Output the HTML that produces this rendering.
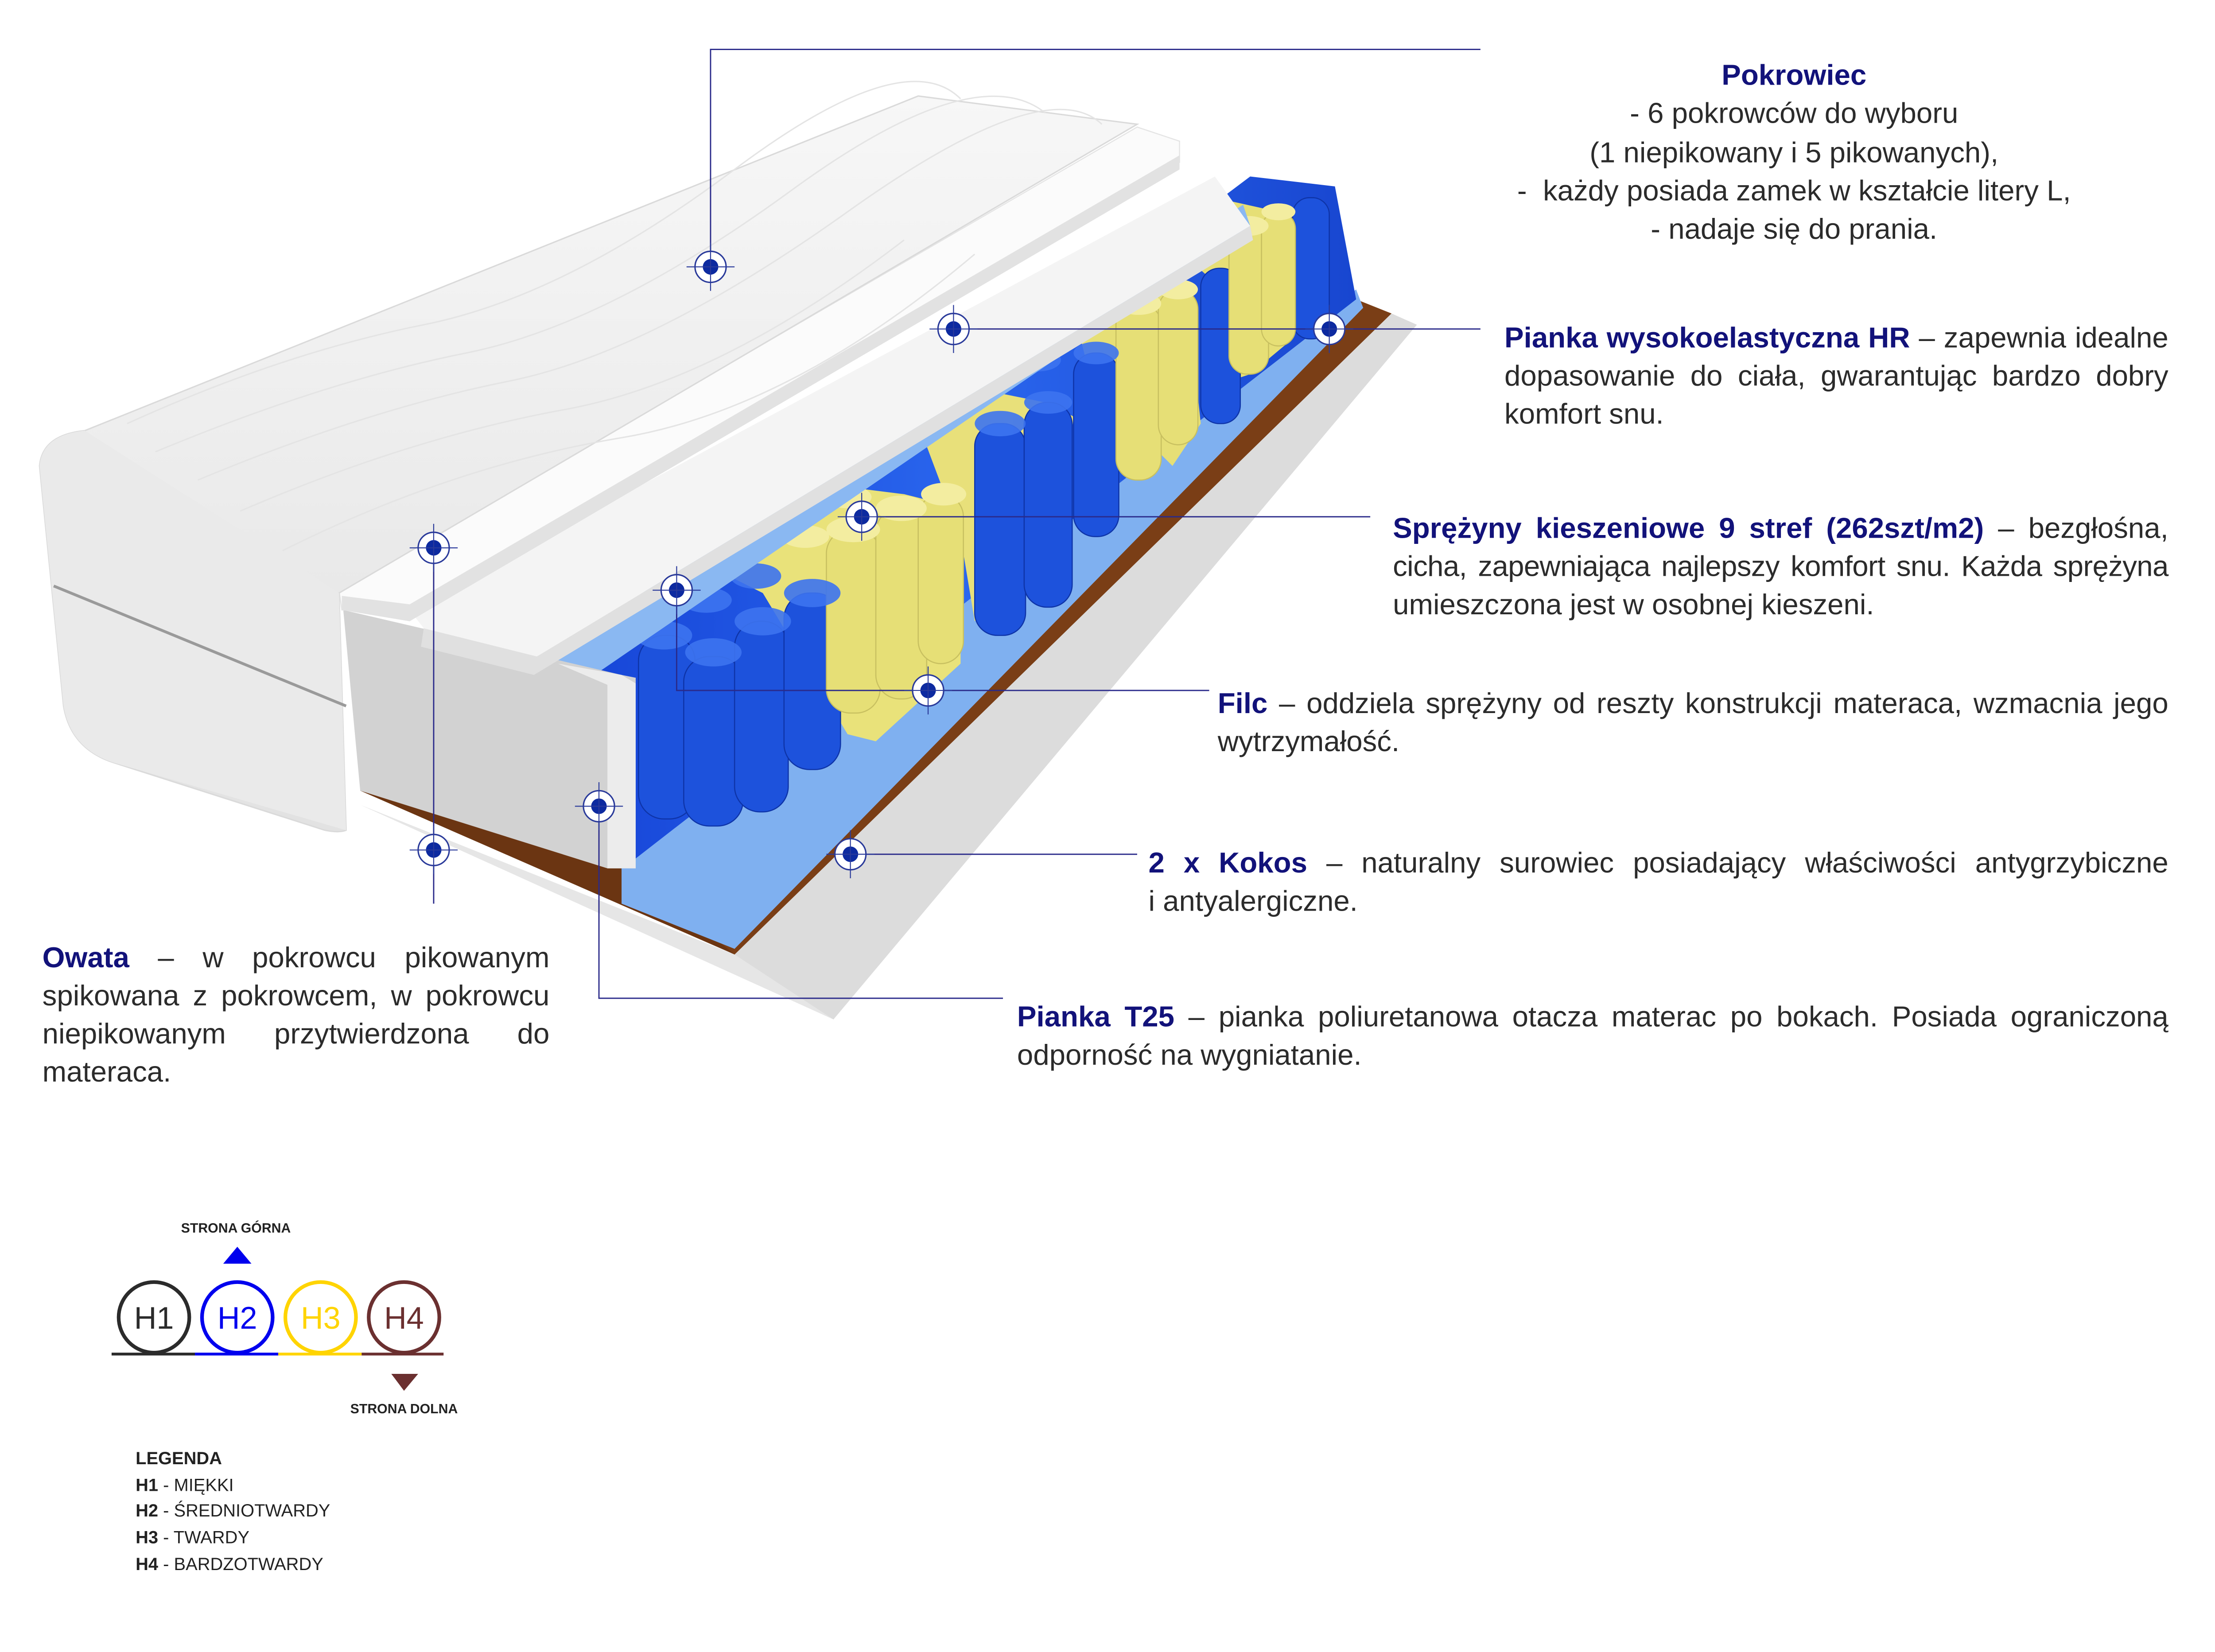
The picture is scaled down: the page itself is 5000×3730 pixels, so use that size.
<!DOCTYPE html>
<html><head><meta charset="utf-8"><style>
html,body{margin:0;padding:0;background:#fff;}
#wrap{position:relative;width:5000px;height:3730px;overflow:hidden;background:#fff;}
#s{position:absolute;left:0;top:0;width:1568px;height:1170px;transform:scale(3.18878,3.18803);transform-origin:0 0;font-family:"Liberation Sans",sans-serif;color:#2b2b2b;}
.t{position:absolute;font-size:20.5px;line-height:27px;white-space:nowrap;}
.j{text-align:justify;text-align-last:justify;}
b.h{color:#12127a;}
.lg{position:absolute;font-size:12.5px;line-height:18.7px;color:#222;white-space:nowrap;}
</style></head><body><div id="wrap"><div id="s">
<svg width="1568" height="1170" viewBox="0 0 1568 1170" style="position:absolute;left:0;top:0">
<defs>
<linearGradient id="bl" x1="0" y1="0" x2="1" y2="0"><stop offset="0" stop-color="#1746d8"/><stop offset="0.5" stop-color="#2a66ee"/><stop offset="1" stop-color="#1846d0"/></linearGradient>
<linearGradient id="cov" x1="0" y1="0" x2="0" y2="1"><stop offset="0" stop-color="#f7f7f7"/><stop offset="1" stop-color="#e2e2e2"/></linearGradient>
<g id="m"><circle r="11" fill="#fff" stroke="#2a3a9a" stroke-width="1"/><circle r="5.5" fill="#0d2aa0"/><line x1="-17" x2="17" stroke="#2a3a9a" stroke-width="0.7"/><line y1="-17" y2="17" stroke="#2a3a9a" stroke-width="0.7"/></g>
</defs>
<!-- bottom white foam -->
<polygon points="255,570 590,722 1003,230 985,222 520,676" fill="#e6e6e6"/>
<polygon points="520,676 985,222 1003,230 590,722" fill="#dcdcdc"/>
<!-- coconut -->
<polygon points="255,560 520,676 985,222 965,215 440,610 255,545" fill="#6b3512"/>
<polygon points="520,676 985,222 960,212 440,610" fill="#7a3e16"/>
<!-- felt bottom -->
<polygon points="440,600 960,205 965,218 520,672 440,640" fill="#7fb0f0"/>
<!-- spring block -->
<polygon points="415,478 885,125 945,132 960,212 450,608 450,480" fill="url(#bl)"/>
<!-- yellow zones -->
<polygon points="520,410 600,345 640,350 680,360 680,470 620,525 600,520 540,420" fill="#e9e27a"/>
<polygon points="760,220 800,190 840,205 850,300 830,330 820,320 770,260" fill="#e6df76"/>
<polygon points="820,165 860,140 905,150 915,240 885,265 870,270 860,200" fill="#e6df76"/>
<polygon points="650,300 690,275 740,285 760,295 750,390 720,420 690,440 680,380" fill="#e8e07a"/>
<!-- spring front columns -->
<g fill="#1d52dc" stroke="#0e34a8" stroke-width="0.8">
<rect x="452" y="450" width="40" height="130" rx="18"/>
<rect x="484" y="465" width="42" height="120" rx="18"/>
<rect x="520" y="440" width="38" height="135" rx="18"/>
<rect x="555" y="420" width="40" height="125" rx="18"/>
<rect x="690" y="300" width="36" height="150" rx="16"/>
<rect x="725" y="285" width="34" height="145" rx="16"/>
<rect x="760" y="250" width="32" height="130" rx="15"/>
<rect x="850" y="190" width="28" height="110" rx="13"/>
<rect x="915" y="140" width="26" height="100" rx="12"/>
</g>
<g fill="#e6df76" stroke="#c8c060" stroke-width="0.8">
<rect x="585" y="375" width="38" height="130" rx="17"/>
<rect x="620" y="360" width="36" height="135" rx="17"/>
<rect x="650" y="350" width="32" height="120" rx="16"/>
<rect x="790" y="215" width="32" height="125" rx="15"/>
<rect x="820" y="205" width="28" height="110" rx="14"/>
<rect x="870" y="160" width="28" height="105" rx="13"/>
<rect x="893" y="150" width="24" height="95" rx="12"/>
</g>
<g fill="#3d74f0" opacity="0.9">
<ellipse cx="470" cy="450" rx="20" ry="10"/><ellipse cx="505" cy="462" rx="20" ry="10"/><ellipse cx="540" cy="440" rx="20" ry="10"/><ellipse cx="575" cy="420" rx="20" ry="10"/>
<ellipse cx="500" cy="425" rx="18" ry="9"/><ellipse cx="535" cy="408" rx="18" ry="9"/><ellipse cx="708" cy="300" rx="18" ry="9"/><ellipse cx="742" cy="285" rx="17" ry="8"/><ellipse cx="776" cy="250" rx="16" ry="8"/>
<ellipse cx="700" cy="270" rx="16" ry="8"/><ellipse cx="735" cy="255" rx="16" ry="8"/>
</g>
<g fill="#f3eda0">
<ellipse cx="604" cy="375" rx="19" ry="9"/><ellipse cx="638" cy="360" rx="18" ry="9"/><ellipse cx="668" cy="350" rx="16" ry="8"/><ellipse cx="570" cy="380" rx="17" ry="8"/><ellipse cx="600" cy="352" rx="17" ry="8"/>
<ellipse cx="806" cy="215" rx="16" ry="8"/><ellipse cx="834" cy="205" rx="14" ry="7"/><ellipse cx="884" cy="160" rx="14" ry="7"/><ellipse cx="905" cy="150" rx="12" ry="6"/><ellipse cx="780" cy="218" rx="14" ry="7"/>
</g>
<!-- felt top -->
<polygon points="385,465 880,145 885,160 415,482" fill="#8ab8f2"/>
<!-- T25 side block -->
<polygon points="243,432 440,478 450,480 450,615 430,615 255,560" fill="#d2d2d2"/>
<polygon points="395,470 440,478 450,484 450,615 430,615 430,485" fill="#ececec"/>
<!-- HR second white layer -->
<polygon points="290,432 860,125 885,160 380,465 300,445" fill="#f4f4f4"/>
<polygon points="300,445 380,465 885,160 887,170 378,478 298,458" fill="#e0e0e0"/>
<!-- HR top foam -->
<polygon points="240,418 805,90 835,100 835,115 290,432 242,432" fill="#fbfbfb" stroke="#e5e5e5" stroke-width="0.8"/>
<polygon points="242,422 290,428 835,110 835,120 290,440 242,432" fill="#e2e2e2"/>
<!-- cover -->
<path d="M28,330 Q30,308 60,305 L650,68 L805,88 L240,420 L245,588 Q240,590 230,588 L80,540 Q50,530 45,500 Z" fill="url(#cov)" stroke="#dadada" stroke-width="1"/>
<path d="M28,330 Q30,308 60,305 L240,420 L245,588 L80,540 Q50,530 45,500 Z" fill="#eaeaea"/>
<path d="M38,415 L245,500" stroke="#9a9a9a" stroke-width="2" fill="none"/>
<g stroke="#e4e4e4" stroke-width="1" fill="none">
<path d="M90,300 Q200,250 300,230 T520,120 T680,70"/><path d="M110,320 Q230,270 330,250 T560,135 T740,80"/><path d="M140,340 Q260,290 360,270 T600,150 T780,88"/><path d="M170,362 Q290,310 400,290 T640,170"/><path d="M200,390 Q320,330 440,310 T690,180"/>
</g>
<!-- connectors -->
<g stroke="#2a2a8a" stroke-width="0.9" fill="none">
<polyline points="503,189 503,35 1048,35"/>
<line x1="675" y1="233" x2="1048" y2="233"/>
<line x1="610" y1="366" x2="970" y2="366"/>
<polyline points="479,418 479,489 856,489"/>
<line x1="602" y1="605" x2="805" y2="605"/>
<polyline points="424,571 424,707 710,707"/>
<line x1="307" y1="388" x2="307" y2="640"/>
</g>
<use href="#m" x="503" y="189"/><use href="#m" x="675" y="233"/><use href="#m" x="941" y="233"/><use href="#m" x="307" y="388"/><use href="#m" x="610" y="366"/><use href="#m" x="479" y="418"/><use href="#m" x="657" y="489"/><use href="#m" x="424" y="571"/><use href="#m" x="307" y="602"/><use href="#m" x="602" y="605"/>
<!-- legend -->
<text x="167" y="873" font-family="Liberation Sans" font-weight="bold" font-size="9.5" text-anchor="middle" fill="#222">STRONA GÓRNA</text>
<polygon points="158,895 168,883 178,895" fill="#0000ee"/>
<line x1="79" y1="959" x2="138" y2="959" stroke="#2b2b2b" stroke-width="2"/>
<line x1="138" y1="959" x2="197" y2="959" stroke="#0000ee" stroke-width="2"/>
<line x1="197" y1="959" x2="256" y2="959" stroke="#ffd400" stroke-width="2"/>
<line x1="256" y1="959" x2="314" y2="959" stroke="#6b3030" stroke-width="2"/>
<g font-family="Liberation Sans" font-size="22" text-anchor="middle" fill="none" stroke-width="2.6">
<circle cx="109" cy="933" r="25" stroke="#2b2b2b"/><circle cx="168" cy="933" r="25" stroke="#0000ee"/><circle cx="227" cy="933" r="25" stroke="#ffd400"/><circle cx="286" cy="933" r="25" stroke="#6b3030"/>
<text x="109" y="941" fill="#2b2b2b" stroke="none">H1</text><text x="168" y="941" fill="#0000ee" stroke="none">H2</text><text x="227" y="941" fill="#ffd400" stroke="none">H3</text><text x="286" y="941" fill="#6b3030" stroke="none">H4</text>
</g>
<polygon points="277,973 296,973 286,985" fill="#6b3030"/>
<text x="286" y="1001" font-family="Liberation Sans" font-weight="bold" font-size="9.5" text-anchor="middle" fill="#222">STRONA DOLNA</text>
</svg>

<div class="t" style="left:1040px;top:40px;width:460px;text-align:center;line-height:27.3px;">
<b class="h">Pokrowiec</b><br>- 6 pokrowców do wyboru<br>(1 niepikowany i 5 pikowanych),<br>- &nbsp;każdy posiada zamek w kształcie litery L,<br>- nadaje się do prania.</div>

<div class="t j" style="left:1065px;top:226px;width:470px;"><b class="h">Pianka wysokoelastyczna HR</b> – zapewnia idealne</div>
<div class="t j" style="left:1065px;top:253px;width:470px;">dopasowanie do ciała, gwarantując bardzo dobry</div>
<div class="t" style="left:1065px;top:280px;">komfort snu.</div>

<div class="t j" style="left:986px;top:361px;width:549px;"><b class="h">Sprężyny kieszeniowe 9 stref (262szt/m2)</b> – bezgłośna,</div>
<div class="t j" style="left:986px;top:388px;width:549px;letter-spacing:-0.2px">cicha, zapewniająca najlepszy komfort snu. Każda sprężyna</div>
<div class="t" style="left:986px;top:415px;">umieszczona jest w osobnej kieszeni.</div>

<div class="t j" style="left:862px;top:485px;width:673px;"><b class="h">Filc</b> – oddziela sprężyny od reszty konstrukcji materaca, wzmacnia jego</div>
<div class="t" style="left:862px;top:512px;">wytrzymałość.</div>

<div class="t j" style="left:813px;top:598px;width:722px;"><b class="h">2 x Kokos</b> – naturalny surowiec posiadający właściwości antygrzybiczne</div>
<div class="t" style="left:813px;top:625px;">i antyalergiczne.</div>

<div class="t j" style="left:720px;top:707px;width:815px;"><b class="h">Pianka T25</b> – pianka poliuretanowa otacza materac po bokach. Posiada ograniczoną</div>
<div class="t" style="left:720px;top:734px;">odporność na wygniatanie.</div>

<div class="t j" style="left:30px;top:665px;width:359px;"><b class="h">Owata</b> – w pokrowcu pikowanym</div>
<div class="t j" style="left:30px;top:692px;width:359px;">spikowana z pokrowcem, w pokrowcu</div>
<div class="t j" style="left:30px;top:719px;width:359px;">niepikowanym przytwierdzona do</div>
<div class="t" style="left:30px;top:746px;">materaca.</div>

<div class="lg" style="left:96px;top:1024px"><b>LEGENDA</b><br><b>H1</b> - MIĘKKI<br><b>H2</b> - ŚREDNIOTWARDY<br><b>H3</b> - TWARDY<br><b>H4</b> - BARDZOTWARDY</div>
</div></div></body></html>
